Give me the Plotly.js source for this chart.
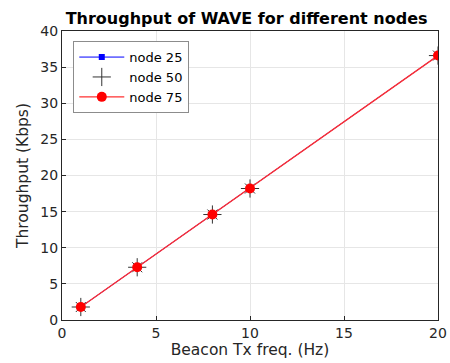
<!DOCTYPE html>
<html><head><meta charset="utf-8">
<script src="https://cdn.plot.ly/plotly-3.0.1.min.js"></script>
<style>body{margin:0;padding:0;background:#fff}</style>
</head><body>
<div id="chart" style="width:450px;height:363px"></div>
<script>
const freq = [1, 4, 8, 10, 20];
const node25 = [1.8, 7.3, 14.6, 18.2, 36.6];
const node50 = [1.8, 7.3, 14.6, 18.2, 36.6];
const node75 = [1.8, 7.3, 14.6, 18.2, 36.6];

const traces = [
  {x: freq, y: node25, name: 'node 25', mode: 'lines+markers',
   line: {color: '#0000ff', width: 1}, marker: {symbol: 'square', size: 6, color: '#0000ff'}},
  {x: freq, y: node50, name: 'node 50', mode: 'markers',
   marker: {symbol: 'cross-thin-open', size: 13, color: '#333333', line: {color: '#333333', width: 1}}},
  {x: freq, y: node50, name: 'node 50', mode: 'markers', showlegend: false,
   marker: {symbol: 'x-thin-open', size: 10, color: '#333333', line: {color: '#333333', width: 1}}},
  {x: freq, y: node75, name: 'node 75', mode: 'lines+markers',
   line: {color: '#ff3030', width: 1.4}, marker: {symbol: 'circle', size: 10, color: '#ff0000'}}
];

const axisCommon = {
  showline: true, mirror: true, linecolor: '#262626', linewidth: 1,
  ticks: 'inside', ticklen: 4, tickcolor: '#262626',
  gridcolor: '#e6e6e6', zeroline: false,
  tickfont: {family: 'DejaVu Sans', size: 14, color: '#262626'}
};

const layout = {
  width: 450, height: 363,
  margin: {l: 62, r: 12, t: 31, b: 43},
  paper_bgcolor: '#fff', plot_bgcolor: '#fff',
  title: {text: '<b>Throughput of WAVE for different nodes</b>', x: 0.548, xanchor: 'center', y: 0.948, yanchor: 'middle',
          font: {family: 'DejaVu Sans', size: 16, color: '#000'}},
  xaxis: Object.assign({}, axisCommon, {range: [0, 20], dtick: 5,
    title: {text: 'Beacon Tx freq. (Hz)', standoff: 3, font: {family: 'DejaVu Sans', size: 15.5, color: '#262626'}}}),
  yaxis: Object.assign({}, axisCommon, {range: [0, 40], dtick: 5,
    title: {text: 'Throughput (Kbps)', standoff: 7, font: {family: 'DejaVu Sans', size: 15.5, color: '#262626'}}}),
  showlegend: true,
  legend: {x: 0.03, y: 0.965, xanchor: 'left', yanchor: 'top', bgcolor: '#fff',
    bordercolor: '#8c8c8c', borderwidth: 1,
    font: {family: 'DejaVu Sans', size: 13, color: '#000'}, tracegroupgap: 0, itemwidth: 45}
};

Plotly.newPlot('chart', traces, layout, {displayModeBar: false, staticPlot: true});
</script>
</body></html>
